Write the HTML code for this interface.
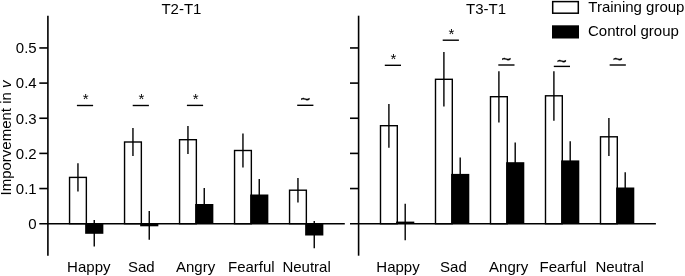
<!DOCTYPE html><html><head><meta charset="utf-8"><style>html,body{margin:0;padding:0;background:#fff}svg{display:block;filter:grayscale(1)}</style></head><body><svg width="685" height="276" viewBox="0 0 685 276" font-family="'Liberation Sans', Arial, sans-serif" font-size="15" fill="#000">
<rect width="685" height="276" fill="#fff"/>
<rect x="69.55" y="177.40" width="16.8" height="46.30" fill="#fff" stroke="#000" stroke-width="1.4"/>
<line x1="77.95" y1="163.20" x2="77.95" y2="191.40" stroke="#000" stroke-width="1.4"/>
<rect x="85.15" y="223.70" width="18.20" height="10.10" fill="#000"/>
<line x1="94.25" y1="220.00" x2="94.25" y2="246.60" stroke="#000" stroke-width="1.4"/>
<line x1="76.90" y1="105.50" x2="93.10" y2="105.50" stroke="#000" stroke-width="1.4"/>
<text x="85.60" y="104.40" text-anchor="middle" font-size="15">*</text>
<text x="88.80" y="271.6" text-anchor="middle">Happy</text>
<rect x="124.55" y="142.00" width="16.8" height="81.70" fill="#fff" stroke="#000" stroke-width="1.4"/>
<line x1="132.95" y1="128.00" x2="132.95" y2="156.00" stroke="#000" stroke-width="1.4"/>
<rect x="140.15" y="223.70" width="18.20" height="2.60" fill="#000"/>
<line x1="149.25" y1="211.10" x2="149.25" y2="239.70" stroke="#000" stroke-width="1.4"/>
<line x1="132.70" y1="105.50" x2="148.90" y2="105.50" stroke="#000" stroke-width="1.4"/>
<text x="141.40" y="104.40" text-anchor="middle" font-size="15">*</text>
<text x="141.35" y="271.6" text-anchor="middle">Sad</text>
<rect x="179.55" y="139.70" width="16.8" height="84.00" fill="#fff" stroke="#000" stroke-width="1.4"/>
<line x1="187.95" y1="126.10" x2="187.95" y2="153.90" stroke="#000" stroke-width="1.4"/>
<rect x="195.15" y="204.00" width="18.20" height="19.70" fill="#000"/>
<line x1="204.25" y1="188.00" x2="204.25" y2="220.00" stroke="#000" stroke-width="1.4"/>
<line x1="186.90" y1="105.40" x2="203.10" y2="105.40" stroke="#000" stroke-width="1.4"/>
<text x="195.60" y="104.30" text-anchor="middle" font-size="15">*</text>
<text x="195.60" y="271.6" text-anchor="middle">Angry</text>
<rect x="234.55" y="150.50" width="16.8" height="73.20" fill="#fff" stroke="#000" stroke-width="1.4"/>
<line x1="242.95" y1="133.50" x2="242.95" y2="167.50" stroke="#000" stroke-width="1.4"/>
<rect x="250.15" y="194.50" width="18.20" height="29.20" fill="#000"/>
<line x1="259.25" y1="179.00" x2="259.25" y2="210.00" stroke="#000" stroke-width="1.4"/>
<text x="251.35" y="271.6" text-anchor="middle">Fearful</text>
<rect x="289.55" y="190.20" width="16.8" height="33.50" fill="#fff" stroke="#000" stroke-width="1.4"/>
<line x1="297.95" y1="178.00" x2="297.95" y2="202.40" stroke="#000" stroke-width="1.4"/>
<rect x="305.15" y="223.70" width="18.20" height="11.80" fill="#000"/>
<line x1="314.25" y1="221.10" x2="314.25" y2="248.30" stroke="#000" stroke-width="1.4"/>
<line x1="297.20" y1="105.30" x2="313.40" y2="105.30" stroke="#000" stroke-width="1.4"/>
<text x="305.30" y="105.40" text-anchor="middle" font-size="16.5" stroke="#000" stroke-width="0.35">~</text>
<text x="306.60" y="271.6" text-anchor="middle">Neutral</text>
<line x1="47.9" y1="15.7" x2="47.9" y2="255.7" stroke="#000" stroke-width="1.6"/>
<line x1="39.3" y1="223.7" x2="344.8" y2="223.7" stroke="#000" stroke-width="1.35"/>
<line x1="39.30" y1="188.55" x2="47.9" y2="188.55" stroke="#000" stroke-width="1.6"/>
<text x="36.70" y="193.85" text-anchor="end">0.1</text>
<line x1="39.30" y1="153.40" x2="47.9" y2="153.40" stroke="#000" stroke-width="1.6"/>
<text x="36.70" y="158.70" text-anchor="end">0.2</text>
<line x1="39.30" y1="118.25" x2="47.9" y2="118.25" stroke="#000" stroke-width="1.6"/>
<text x="36.70" y="123.55" text-anchor="end">0.3</text>
<line x1="39.30" y1="83.10" x2="47.9" y2="83.10" stroke="#000" stroke-width="1.6"/>
<text x="36.70" y="88.40" text-anchor="end">0.4</text>
<line x1="39.30" y1="47.95" x2="47.9" y2="47.95" stroke="#000" stroke-width="1.6"/>
<text x="36.70" y="53.25" text-anchor="end">0.5</text>
<text x="36.70" y="229.00" text-anchor="end">0</text>
<text x="181.4" y="13.6" text-anchor="middle">T2-T1</text>
<rect x="380.50" y="125.70" width="16.8" height="98.00" fill="#fff" stroke="#000" stroke-width="1.4"/>
<line x1="388.90" y1="104.00" x2="388.90" y2="147.70" stroke="#000" stroke-width="1.4"/>
<rect x="396.10" y="221.60" width="18.20" height="2.10" fill="#000"/>
<line x1="405.20" y1="203.80" x2="405.20" y2="240.30" stroke="#000" stroke-width="1.4"/>
<line x1="384.80" y1="65.30" x2="401.00" y2="65.30" stroke="#000" stroke-width="1.4"/>
<text x="393.50" y="64.20" text-anchor="middle" font-size="15">*</text>
<text x="398.00" y="271.6" text-anchor="middle">Happy</text>
<rect x="435.50" y="79.30" width="16.8" height="144.40" fill="#fff" stroke="#000" stroke-width="1.4"/>
<line x1="443.90" y1="52.00" x2="443.90" y2="106.40" stroke="#000" stroke-width="1.4"/>
<rect x="451.10" y="173.90" width="18.20" height="49.80" fill="#000"/>
<line x1="460.20" y1="157.50" x2="460.20" y2="190.50" stroke="#000" stroke-width="1.4"/>
<line x1="442.70" y1="40.20" x2="458.90" y2="40.20" stroke="#000" stroke-width="1.4"/>
<text x="451.40" y="39.10" text-anchor="middle" font-size="15">*</text>
<text x="453.40" y="271.6" text-anchor="middle">Sad</text>
<rect x="490.50" y="96.70" width="16.8" height="127.00" fill="#fff" stroke="#000" stroke-width="1.4"/>
<line x1="498.90" y1="71.20" x2="498.90" y2="122.40" stroke="#000" stroke-width="1.4"/>
<rect x="506.10" y="162.20" width="18.20" height="61.50" fill="#000"/>
<line x1="515.20" y1="142.50" x2="515.20" y2="182.00" stroke="#000" stroke-width="1.4"/>
<line x1="498.30" y1="65.00" x2="514.50" y2="65.00" stroke="#000" stroke-width="1.4"/>
<text x="506.40" y="65.10" text-anchor="middle" font-size="16.5" stroke="#000" stroke-width="0.35">~</text>
<text x="508.70" y="271.6" text-anchor="middle">Angry</text>
<rect x="545.50" y="95.80" width="16.8" height="127.90" fill="#fff" stroke="#000" stroke-width="1.4"/>
<line x1="553.90" y1="71.20" x2="553.90" y2="120.70" stroke="#000" stroke-width="1.4"/>
<rect x="561.10" y="160.40" width="18.20" height="63.30" fill="#000"/>
<line x1="570.20" y1="141.20" x2="570.20" y2="179.60" stroke="#000" stroke-width="1.4"/>
<line x1="553.80" y1="66.40" x2="570.00" y2="66.40" stroke="#000" stroke-width="1.4"/>
<text x="561.90" y="66.50" text-anchor="middle" font-size="16.5" stroke="#000" stroke-width="0.35">~</text>
<text x="562.90" y="271.6" text-anchor="middle">Fearful</text>
<rect x="600.50" y="136.80" width="16.8" height="86.90" fill="#fff" stroke="#000" stroke-width="1.4"/>
<line x1="608.90" y1="118.10" x2="608.90" y2="156.10" stroke="#000" stroke-width="1.4"/>
<rect x="616.10" y="187.50" width="18.20" height="36.20" fill="#000"/>
<line x1="625.20" y1="172.30" x2="625.20" y2="202.70" stroke="#000" stroke-width="1.4"/>
<line x1="609.65" y1="65.00" x2="625.85" y2="65.00" stroke="#000" stroke-width="1.4"/>
<text x="617.75" y="65.10" text-anchor="middle" font-size="16.5" stroke="#000" stroke-width="0.35">~</text>
<text x="619.60" y="271.6" text-anchor="middle">Neutral</text>
<line x1="358.6" y1="15.7" x2="358.6" y2="255.7" stroke="#000" stroke-width="1.6"/>
<line x1="350.0" y1="223.7" x2="655.9" y2="223.7" stroke="#000" stroke-width="1.35"/>
<line x1="350.00" y1="188.55" x2="358.6" y2="188.55" stroke="#000" stroke-width="1.6"/>
<line x1="350.00" y1="153.40" x2="358.6" y2="153.40" stroke="#000" stroke-width="1.6"/>
<line x1="350.00" y1="118.25" x2="358.6" y2="118.25" stroke="#000" stroke-width="1.6"/>
<line x1="350.00" y1="83.10" x2="358.6" y2="83.10" stroke="#000" stroke-width="1.6"/>
<line x1="350.00" y1="47.95" x2="358.6" y2="47.95" stroke="#000" stroke-width="1.6"/>
<text x="486" y="13.6" text-anchor="middle">T3-T1</text>
<text transform="translate(11.2,138.0) rotate(-90)" text-anchor="middle">Imporvement in <tspan font-style="italic">v</tspan></text>
<rect x="552.7" y="1.6" width="25.6" height="11.6" fill="#fff" stroke="#000" stroke-width="1.5"/>
<rect x="552" y="25.3" width="27" height="13.2" fill="#000"/>
<text x="588.3" y="11.5">Training group</text>
<text x="588" y="36">Control group</text>
</svg></body></html>
